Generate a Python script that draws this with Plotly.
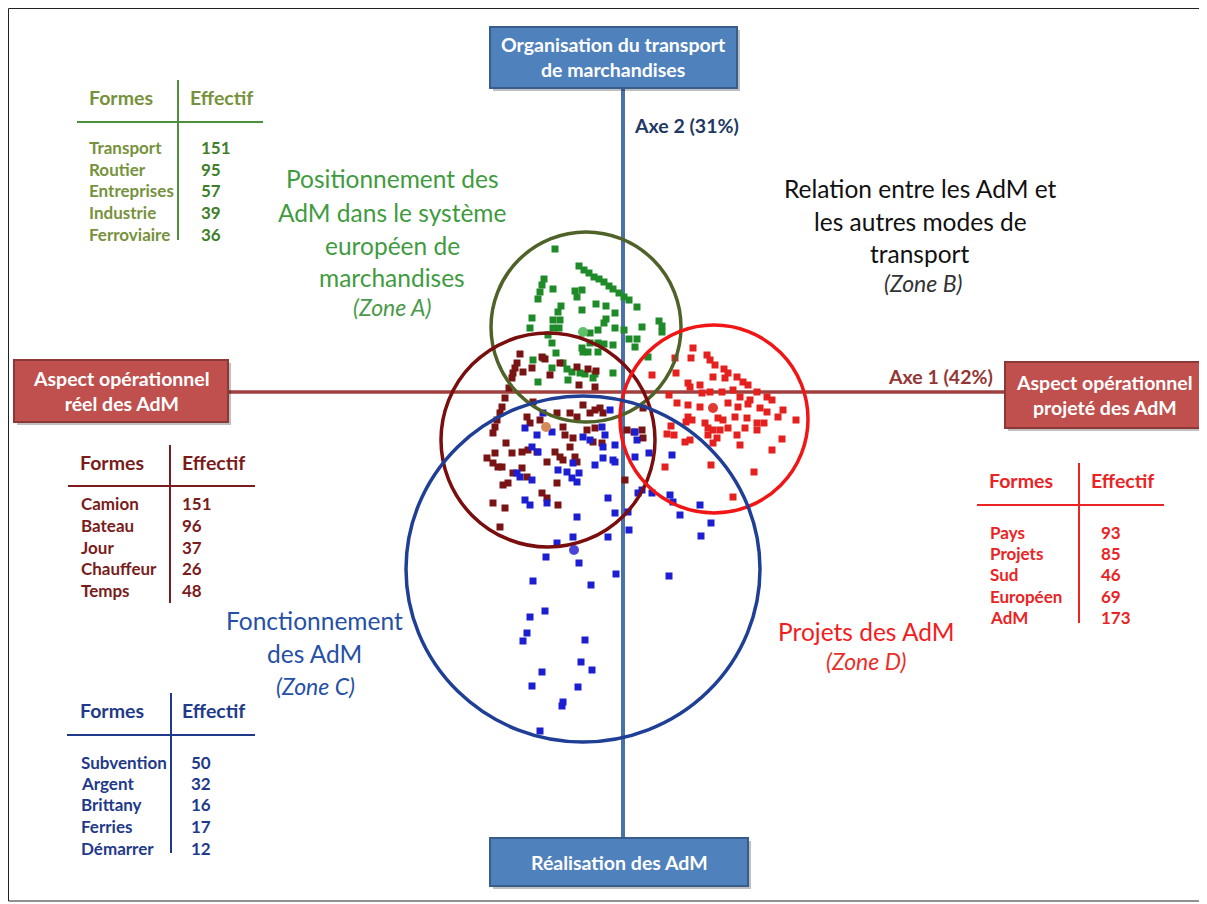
import plotly.graph_objects as go

# ---------------- DATA (factor plane: Axe 1 horizontal, Axe 2 vertical) ----------------
zoneA_x = [-0.68, -0.44, -0.39, -0.34, -0.29, -0.24, -0.19, -0.14, -0.10, -0.04,
           0.01, 0.06, 0.14, -0.79, -0.81, -0.83, -0.85, -0.70, -0.48, -0.41,
           -0.46, -0.62, -0.65, -0.41, -0.27, -0.17, -0.08, -0.91, -0.70, -0.63,
           -0.17, -0.19, -0.93, -0.70, -0.64, -0.33, -0.25, -0.08, 0.01, 0.19,
           0.36, 0.39, 0.39, -0.75, -0.71, -0.41, -0.33, -0.25, -0.19, -0.10,
           0.06, 0.14, 0.12, -0.40, -0.35, -0.25, -0.67, -0.90, -0.80, -0.60,
           -0.71, -0.56, -0.43, -0.51, -0.38, -0.28, -0.30, -0.10, -0.85, -0.55, 0.25]
zoneA_y = [1.43, 1.26, 1.22, 1.19, 1.15, 1.13, 1.10, 1.06, 1.03, 0.99,
           0.95, 0.92, 0.85, 1.13, 1.07, 1.00, 0.93, 1.03, 1.01, 1.02,
           0.95, 0.86, 0.80, 0.82, 0.88, 0.86, 0.79, 0.74, 0.72, 0.72,
           0.73, 0.69, 0.64, 0.64, 0.64, 0.59, 0.62, 0.64, 0.62, 0.65,
           0.71, 0.66, 0.60, 0.57, 0.49, 0.44, 0.49, 0.49, 0.48, 0.47,
           0.53, 0.53, 0.45, 0.40, 0.40, 0.40, 0.39, 0.32, 0.34, 0.29,
           0.24, 0.23, 0.19, 0.20, 0.18, 0.18, 0.14, 0.19, 0.10, 0.12, 0.35]

zoneR_x = [-1.03, -1.06, -1.08, -1.10, -1.11, -1.14, -1.00, -0.91, -0.81, -0.78,
           -0.63, -0.73, -0.46, -0.44, -0.35, -0.28, -0.27, -1.18, -1.21, -1.23,
           -1.26, -1.28, -1.30, -0.90, -0.96, -0.93, -0.83, -0.66, -0.53, -0.46,
           -0.40, -0.33, -0.28, -0.23, -0.60, -0.58, -0.50, -0.36, -0.28, -0.20,
           -0.30, -0.21, -1.17, -1.28, -1.36, -1.11, -1.01, -0.95, -0.86, -0.76,
           -0.68, -0.63, -0.53, -0.48, -0.46, -0.60, -1.30, -1.25, -1.21, -1.01,
           -0.96, -1.10, -1.20, -1.15, -0.66, -0.81, -0.76, -1.30, -1.18, -0.65,
           -1.23, 0.20, 0.04, 0.11, 0.19, 0.20, 0.02]
zoneR_y = [0.38, 0.29, 0.24, 0.19, 0.14, 0.04, 0.20, 0.24, 0.35, 0.33,
           0.29, 0.17, 0.25, 0.07, 0.23, 0.05, 0.21, -0.06, -0.15, -0.21,
           -0.28, -0.35, -0.41, -0.10, -0.25, -0.31, -0.28, -0.21, -0.21, -0.25,
           -0.13, -0.21, -0.18, -0.16, -0.35, -0.43, -0.46, -0.38, -0.36, -0.21,
           -0.50, -0.51, -0.51, -0.61, -0.66, -0.61, -0.60, -0.58, -0.60, -0.70,
           -0.60, -0.65, -0.55, -0.65, -0.70, -0.68, -0.71, -0.75, -0.75, -0.76,
           -0.85, -0.81, -0.93, -0.91, -0.91, -1.01, -1.06, -1.11, -1.16, -1.13,
           -1.35, -0.16, -0.38, -0.40, -0.38, -0.46, -0.88]

zoneD_x = [0.29, 0.52, 0.65, 0.70, 0.67, 0.68, 0.84, 0.87, 0.92, 0.53,
           1.01, 1.05, 1.14, 1.20, 1.25, 1.34, 1.44, 1.49, 0.90, 1.02,
           0.77, 0.79, 0.87, 0.99, 1.10, 1.17, 1.27, 0.46, 0.54, 0.65,
           0.77, 1.05, 1.15, 1.25, 1.37, 1.44, 1.60, 0.65, 0.63, 0.69,
           0.82, 0.95, 1.00, 1.12, 1.24, 1.34, 1.41, 1.55, 1.73, 0.48,
           0.51, 0.44, 0.85, 0.90, 0.97, 1.05, 1.14, 1.22, 1.34, 0.94,
           0.85, 0.62, 0.67, 0.90, 1.17, 1.59, 1.49, 0.42, 0.88, 1.31, 1.10]
zoneD_y = [0.17, 0.34, 0.09, 0.44, 0.05, 0.34, 0.37, 0.32, 0.27, 0.19,
           0.23, 0.19, 0.15, 0.10, 0.07, 0.00, -0.05, -0.08, 0.15, 0.14,
           0.07, -0.01, 0.00, 0.00, 0.02, -0.05, -0.08, -0.03, -0.11, -0.13,
           -0.15, -0.11, -0.15, -0.12, -0.16, -0.20, -0.18, -0.25, -0.30, -0.28,
           -0.31, -0.26, -0.28, -0.25, -0.26, -0.31, -0.31, -0.25, -0.28, -0.34,
           -0.43, -0.42, -0.36, -0.38, -0.38, -0.36, -0.43, -0.36, -0.38, -0.46,
           -0.43, -0.50, -0.48, -0.51, -0.53, -0.47, -0.58, -0.75, -0.73, -0.80, -1.05]

zoneC_x = [-0.13, -0.21, -0.18, -0.08, 0.12, 0.14, 0.12, 0.26, 0.49, -0.20,
           -0.08, 0.19, 0.15, 0.29, 0.47, 0.50, 0.77, 0.57, -0.15, -0.08,
           -0.98, -0.86, -0.80, -0.71, -0.91, -0.85, -0.40, -0.33, -0.10, -0.20,
           -0.28, -0.50, -0.65, -0.56, -0.51, -0.46, -0.44, -1.06, -1.03, -0.91,
           -0.98, -0.93, -0.76, -0.46, 0.05, 0.06, -0.15, -0.50, -0.66, -0.77,
           -0.44, -0.07, 0.46, -0.90, -0.32, -0.78, -0.93, -0.96, -1.00, -0.38,
           -0.42, -0.31, -0.81, -0.91, -0.45, -0.60, -0.61, -0.83, 0.78, 0.88]
zoneC_y = [-0.18, -0.35, -0.43, -0.53, -0.40, -0.48, -0.65, -0.61, -0.63, -0.55,
           -0.70, -0.98, -1.01, -1.01, -1.03, -1.10, -1.13, -1.23, -1.06, -1.21,
           -0.36, -0.43, -0.21, -0.40, -0.55, -0.60, -0.45, -0.48, -0.68, -0.66,
           -0.73, -0.71, -0.78, -0.80, -0.86, -0.90, -0.81, -0.81, -0.85, -0.88,
           -1.08, -1.13, -1.11, -1.25, -1.20, -1.38, -1.45, -1.45, -1.51, -1.65,
           -1.71, -1.82, -1.84, -1.89, -1.93, -2.19, -2.25, -2.41, -2.49, -2.48,
           -2.70, -2.78, -2.80, -2.94, -2.95, -3.10, -3.14, -3.39, -1.44, -1.31]

# zone centroids and circle extents (A, réel, D, C)
zone_names = ["A", "R", "D", "C"]
centre_x = [-0.40, -0.77, 0.90, -0.49]
centre_y = [0.60, -0.35, -0.16, -1.58]
circle_cx = [-0.37, -0.75, 0.91, -0.40]
circle_cy = [0.65, -0.48, -0.27, -1.77]
circle_rx = [0.95, 1.07, 0.94, 1.77]
circle_ry = [0.95, 1.07, 0.94, 1.73]

# tables
tabA_formes = ["Transport", "Routier", "Entreprises", "Industrie", "Ferroviaire"]
tabA_eff = [151, 95, 57, 39, 36]
tabR_formes = ["Camion", "Bateau", "Jour", "Chauffeur", "Temps"]
tabR_eff = [151, 96, 37, 26, 48]
tabC_formes = ["Subvention", "Argent", "Brittany", "Ferries", "Démarrer"]
tabC_eff = [50, 32, 16, 17, 12]
tabD_formes = ["Pays", "Projets", "Sud", "Européen", "AdM"]
tabD_eff = [93, 85, 46, 69, 173]

# ---------------- STYLE ----------------
FONT = "Lato, 'Open Sans', sans-serif"
col_pts = {"A": "#1e8a28", "R": "#7a1414", "D": "#e4211f", "C": "#1c1ed2"}
col_circ = {"A": "#4f6228", "R": "#7a0d0d", "D": "#f21515", "C": "#1f3f96"}
col_ctr = {"A": "#5fbf6a", "R": "#d68a5a", "D": "#e03a32", "C": "#4b46d8"}

fig = go.Figure()
series = {"A": (zoneA_x, zoneA_y), "R": (zoneR_x, zoneR_y),
          "D": (zoneD_x, zoneD_y), "C": (zoneC_x, zoneC_y)}
for k, (xs, ys) in series.items():
    fig.add_trace(go.Scatter(x=xs, y=ys, mode="markers",
                             marker=dict(symbol="square", size=7, color=col_pts[k]),
                             showlegend=False, hoverinfo="skip"))
for i, k in enumerate(zone_names):
    fig.add_trace(go.Scatter(x=[centre_x[i]], y=[centre_y[i]], mode="markers",
                             marker=dict(symbol="circle", size=10, color=col_ctr[k]),
                             showlegend=False, hoverinfo="skip"))

shapes = []
# frame
shapes.append(dict(type="rect", x0=-6.145, x1=5.80, y0=-5.09, y1=3.835,
                   line=dict(color="#222", width=1), layer="below"))
# axes lines
shapes.append(dict(type="line", x0=-3.95, x1=3.82, y0=0, y1=0,
                   line=dict(color="#a0403e", width=3.5), layer="below"))
shapes.append(dict(type="line", x0=0, x1=0, y0=3.04, y1=-4.46,
                   line=dict(color="#4a72a8", width=4), layer="below"))
# circles
for i, k in enumerate(zone_names):
    shapes.append(dict(type="circle", x0=circle_cx[i] - circle_rx[i], x1=circle_cx[i] + circle_rx[i],
                       y0=circle_cy[i] - circle_ry[i], y1=circle_cy[i] + circle_ry[i],
                       line=dict(color=col_circ[k], width=3.5), layer="above"))


def box(x0, x1, y0, y1, fill, edge):
    shapes.append(dict(type="rect", x0=x0 + 0.03, x1=x1 + 0.03, y0=y0 - 0.03, y1=y1 - 0.03,
                       fillcolor="rgba(0,0,0,0.25)", line=dict(width=0), layer="above"))
    shapes.append(dict(type="rect", x0=x0, x1=x1, y0=y0, y1=y1,
                       fillcolor=fill, line=dict(color=edge, width=2), layer="above"))


box(-1.33, 1.14, 3.04, 3.65, "#4f81bd", "#385d8a")
box(-1.33, 1.25, -4.94, -4.46, "#4f81bd", "#385d8a")
box(-6.09, -3.95, -0.30, 0.32, "#c0504d", "#8c3836")
box(3.82, 5.80, -0.36, 0.30, "#c0504d", "#8c3836")

ann = []


def txt(x, y, s, size, color, xanchor="center", bold=False, italic=False):
    if bold:
        s = "<b>" + s + "</b>"
    if italic:
        s = "<i>" + s + "</i>"
    ann.append(dict(x=x, y=y, text=s, showarrow=False, xanchor=xanchor, yanchor="middle",
                    font=dict(family=FONT, size=size, color=color)))


BOX = 19.5
# box labels
txt(-0.10, 3.35, "Organisation du transport<br>de marchandises", BOX, "white", bold=True)
txt(-0.04, -4.70, "Réalisation des AdM", BOX, "white", bold=True)
txt(-5.02, 0.01, "Aspect opérationnel<br>réel des AdM", BOX, "white", bold=True)
txt(4.81, -0.03, "Aspect opérationnel<br>projeté des AdM", BOX, "white", bold=True)
txt(0.09, 2.67, "Axe 2 (31%)", BOX, "#1f3864", xanchor="left", bold=True)
txt(2.63, 0.16, "Axe 1 (42%)", BOX, "#943634", xanchor="left", bold=True)

Z = 24.5
ZL = 23
# zone texts
for y, s in zip([2.14, 1.80, 1.47, 1.15], ["Positionnement des", "AdM dans le système",
                                           "européen de", "marchandises"]):
    txt(-2.31, y, s, Z, "#3f9b3f")
txt(-2.31, 0.85, "(Zone A)", ZL, "#4a9a4a", italic=True)
for y, s in zip([2.04, 1.71, 1.39], ["Relation entre les AdM et", "les autres modes de", "transport"]):
    txt(2.97, y, s, Z, "#111111")
txt(3.0, 1.09, "(Zone B)", ZL, "#333333", italic=True)
txt(-3.09, -2.28, "Fonctionnement", Z, "#2550a6")
txt(-3.09, -2.61, "des AdM", Z, "#2550a6")
txt(-3.08, -2.94, "(Zone C)", ZL, "#2550a6", italic=True)
txt(2.43, -2.39, "Projets des AdM", Z, "#f21d1d")
txt(2.43, -2.69, "(Zone D)", ZL, "#e8302a", italic=True)


def table(formes, eff, hx1, hx2, hy, rule_x0, rule_x1, rule_y, vx, vy0, vy1,
          lx, vxv, rows_y, hcol, lcol, ncol, rcol):
    txt(hx1, hy, "Formes", 19.5, hcol, xanchor="left", bold=True)
    txt(hx2, hy, "Effectif", 19.5, hcol, xanchor="left", bold=True)
    shapes.append(dict(type="line", x0=rule_x0, x1=rule_x1, y0=rule_y, y1=rule_y,
                       line=dict(color=rcol, width=2)))
    shapes.append(dict(type="line", x0=vx, x1=vx, y0=vy0, y1=vy1,
                       line=dict(color=rcol, width=2)))
    for f, e, y in zip(formes, eff, rows_y):
        txt(lx, y, f, 17, lcol, xanchor="left", bold=True)
        txt(vxv, y, str(e), 17, ncol, xanchor="left", bold=True)


table(tabA_formes, tabA_eff, -5.36, -4.35, 2.95, -5.46, -3.60, 2.70, -4.45, 3.12, 1.52,
      -5.36, -4.24, [2.45, 2.23, 2.02, 1.80, 1.58], "#76923c", "#76923c", "#3f7f2a", "#4e8f3e")
table(tabR_formes, tabR_eff, -5.45, -4.43, -0.70, -5.55, -3.68, -0.94, -4.53, -0.53, -2.11,
      -5.44, -4.43, [-1.11, -1.33, -1.55, -1.76, -1.98], "#7a1c1c", "#7a1c1c", "#7a1c1c", "#7a1c1c")
table(tabC_formes, tabC_eff, -5.45, -4.43, -3.18, -5.56, -3.68, -3.43, -4.52, -3.01, -4.61,
      -5.44, -4.34, [-3.70, -3.91, -4.12, -4.34, -4.56], "#1f3a8a", "#1f3a8a", "#1f3a8a", "#1f3a8a")
table(tabD_formes, tabD_eff, 3.64, 4.66, -0.88, 3.54, 5.41, -1.13, 4.56, -0.71, -2.31,
      3.65, 4.76, [-1.40, -1.61, -1.82, -2.04, -2.25], "#ea2424", "#ea2424", "#ea2424", "#ea2424")

# page has an 8px body margin, so the figure is 8px smaller and axes start at pixel 8
fig.update_layout(
    width=1199, height=896, margin=dict(l=0, r=0, t=0, b=0),
    paper_bgcolor="white", plot_bgcolor="white",
    xaxis=dict(range=[-6.15, 5.84], visible=False, fixedrange=True),
    yaxis=dict(range=[-5.12, 3.84], visible=False, fixedrange=True),
    shapes=shapes, annotations=ann, showlegend=False,
)
fig.write_html("out.html")
